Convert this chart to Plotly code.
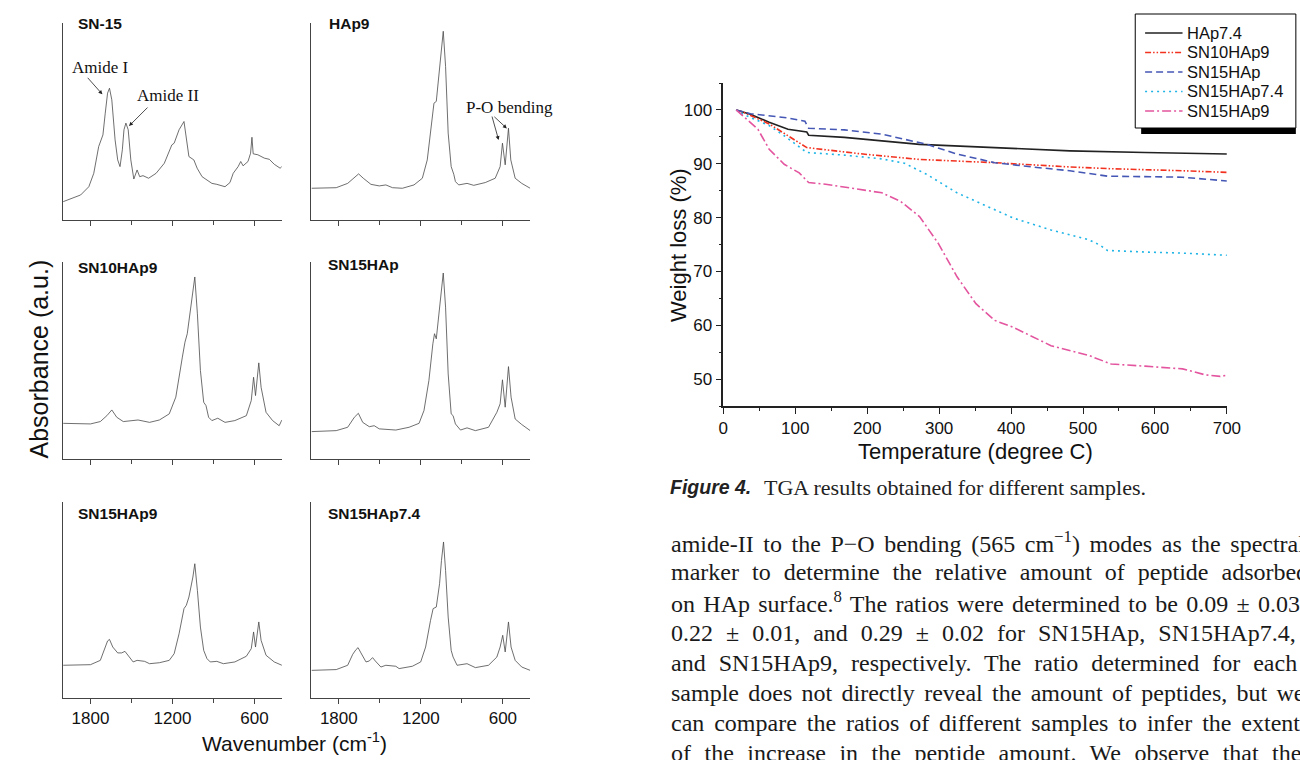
import plotly.graph_objects as go

W, H = 1300, 760

# ---- FTIR spectra (wavenumber cm-1, absorbance a.u. scaled to panel height) ----
sn15_wn = [2000, 1872, 1812, 1776, 1740, 1709, 1692, 1675, 1661, 1644, 1620, 1601, 1584, 1567, 1555,
           1541, 1524, 1505, 1483, 1459, 1440, 1416, 1375, 1320, 1260, 1205, 1188, 1152, 1116, 1097,
           1080, 1044, 1020, 984, 912, 876, 816, 780, 756, 720, 701, 684, 648, 629, 619, 610, 576,
           528, 492, 456, 413, 401]
sn15_ab = [0.093, 0.127, 0.169, 0.237, 0.373, 0.432, 0.542, 0.644, 0.669, 0.610, 0.407, 0.305, 0.271,
           0.356, 0.458, 0.492, 0.458, 0.305, 0.208, 0.254, 0.220, 0.225, 0.212, 0.237, 0.288, 0.381,
           0.390, 0.458, 0.500, 0.407, 0.322, 0.305, 0.263, 0.220, 0.186, 0.181, 0.169, 0.190, 0.237,
           0.271, 0.297, 0.275, 0.297, 0.339, 0.420, 0.336, 0.331, 0.314, 0.308, 0.283, 0.263, 0.271]

hap9_wn = [2000, 1819, 1735, 1686, 1655, 1621, 1565, 1504, 1456, 1407, 1335, 1250, 1189, 1153, 1121,
           1104, 1087, 1068, 1049, 1036, 1019, 1000, 978, 959, 947, 923, 862, 813, 729, 656, 620,
           603, 583, 559, 542, 510, 462, 400]
hap9_ab = [0.161, 0.164, 0.186, 0.217, 0.234, 0.212, 0.181, 0.173, 0.178, 0.164, 0.161, 0.178, 0.212,
           0.305, 0.492, 0.593, 0.602, 0.729, 0.881, 0.958, 0.780, 0.441, 0.271, 0.232, 0.195, 0.178,
           0.186, 0.176, 0.190, 0.212, 0.271, 0.390, 0.280, 0.466, 0.305, 0.212, 0.186, 0.161]

sn10hap9_wn = [2000, 1800, 1728, 1680, 1644, 1608, 1560, 1452, 1368, 1296, 1224, 1176, 1128, 1109,
               1092, 1068, 1051, 1037, 1018, 996, 972, 955, 936, 912, 869, 816, 744, 660, 624, 607,
               593, 569, 552, 516, 468, 420, 400]
sn10hap9_ab = [0.181, 0.178, 0.190, 0.220, 0.249, 0.212, 0.190, 0.198, 0.186, 0.198, 0.229, 0.314,
               0.517, 0.593, 0.636, 0.754, 0.856, 0.924, 0.737, 0.449, 0.288, 0.271, 0.212, 0.195,
               0.207, 0.186, 0.195, 0.220, 0.297, 0.415, 0.322, 0.488, 0.364, 0.237, 0.195, 0.169, 0.198]

sn15hap_wn = [2000, 1819, 1735, 1686, 1657, 1625, 1577, 1541, 1504, 1383, 1286, 1213, 1177, 1141,
              1112, 1100, 1087, 1068, 1051, 1036, 1019, 1000, 978, 964, 947, 910, 862, 801, 705, 644,
              620, 603, 583, 559, 540, 510, 462, 400]
sn15hap_ab = [0.139, 0.144, 0.161, 0.212, 0.232, 0.186, 0.164, 0.169, 0.153, 0.147, 0.161, 0.181,
              0.246, 0.398, 0.585, 0.636, 0.610, 0.737, 0.873, 0.944, 0.771, 0.432, 0.229, 0.220,
              0.178, 0.147, 0.158, 0.144, 0.161, 0.237, 0.280, 0.402, 0.263, 0.469, 0.314, 0.203,
              0.175, 0.144]

sn15hap9_wn = [2000, 1800, 1728, 1697, 1675, 1661, 1637, 1601, 1572, 1548, 1524, 1488, 1459, 1404,
               1368, 1296, 1224, 1188, 1152, 1116, 1099, 1080, 1051, 1037, 1018, 996, 972, 948, 924,
               876, 828, 744, 660, 624, 607, 593, 569, 552, 516, 456, 400]
sn15hap9_ab = [0.167, 0.170, 0.192, 0.252, 0.291, 0.299, 0.260, 0.230, 0.230, 0.238, 0.218, 0.184,
               0.192, 0.187, 0.175, 0.180, 0.192, 0.226, 0.328, 0.456, 0.473, 0.515, 0.617, 0.685,
               0.549, 0.362, 0.243, 0.201, 0.184, 0.187, 0.175, 0.184, 0.213, 0.252, 0.337, 0.260,
               0.388, 0.294, 0.218, 0.184, 0.167]

sn15hap74_wn = [2000, 1819, 1735, 1698, 1674, 1659, 1638, 1601, 1577, 1553, 1533, 1492, 1456, 1383,
                1359, 1262, 1201, 1165, 1129, 1110, 1087, 1063, 1049, 1034, 1019, 1000, 978, 964, 935,
                862, 801, 705, 644, 620, 601, 583, 559, 540, 510, 462, 400]
sn15hap74_ab = [0.141, 0.145, 0.167, 0.223, 0.247, 0.257, 0.230, 0.184, 0.189, 0.206, 0.189, 0.158,
                0.167, 0.162, 0.150, 0.162, 0.184, 0.260, 0.396, 0.456, 0.464, 0.583, 0.702, 0.796,
                0.651, 0.413, 0.243, 0.209, 0.167, 0.175, 0.155, 0.167, 0.209, 0.260, 0.320, 0.235,
                0.388, 0.260, 0.192, 0.158, 0.141]

wn_ticks = [1800, 1200, 600]
wn_minor = [1500, 900]

# ---- TGA curves (temperature degree C, weight %) ----
hap74_t = [17.8, 37.6, 63.7, 89.9, 116.0, 118.6, 168.2, 272.7, 377.2, 481.7, 586.1, 700]
hap74_w = [100, 99.2, 97.7, 96.4, 95.9, 95.3, 94.9, 93.6, 93.0, 92.4, 92.1, 91.8]

sn10_t = [17.8, 27.2, 63.7, 84.6, 116.0, 142.1, 194.3, 272.7, 377.2, 481.7, 533.9, 638.4, 700]
sn10_w = [100, 99.6, 97.4, 95.6, 93.0, 92.6, 91.8, 90.8, 90.2, 89.4, 89.1, 88.7, 88.4]

sn15_t = [17.8, 37.6, 89.9, 113.4, 118.6, 168.2, 220.5, 251.8, 283.1, 324.9, 377.2, 429.4, 481.7,
          533.9, 638.4, 700]
sn15_w = [100, 99.3, 98.5, 97.9, 96.6, 96.3, 95.5, 94.6, 93.6, 91.8, 90.2, 89.4, 88.7, 87.7, 87.5, 86.8]

sn1574_t = [17.8, 27.2, 63.7, 84.6, 116.0, 168.2, 220.5, 251.8, 283.1, 324.9, 361.5, 403.3, 455.5,
            507.8, 523.4, 533.9, 586.1, 638.4, 700]
sn1574_w = [100, 99.2, 97.1, 95.2, 92.1, 91.6, 90.9, 90.1, 88.0, 84.6, 82.4, 79.9, 77.7, 75.9, 74.9,
            73.9, 73.6, 73.4, 73.0]

sn159_t = [17.8, 32.4, 48.1, 63.7, 84.6, 105.5, 118.6, 142.1, 194.3, 220.5, 246.6, 272.7, 298.8,
           324.9, 351.1, 377.2, 403.3, 455.5, 507.8, 539.1, 586.1, 638.4, 669.7, 690.6, 700]
sn159_w = [100, 98.3, 96.4, 92.7, 89.9, 88.3, 86.5, 86.2, 85.2, 84.6, 83.0, 80.2, 75.2, 69.0, 64.0,
           60.9, 59.6, 56.2, 54.4, 52.8, 52.4, 51.9, 50.8, 50.5, 50.7]

ARIAL = "Arial, Liberation Sans, sans-serif"
TIMES = "Times New Roman, Liberation Serif, serif"


def px(x):
    return x / W


def py(y):
    return 1 - y / H


fig = go.Figure()

# panel: title, wn, ab, x-pixels, y-pixels (top, bottom), title position, tick labels
panels = [
    ("SN-15", sn15_wn, sn15_ab, (59, 281), (23, 220), (72, 24), False),
    ("HAp9", hap9_wn, hap9_ab, (311, 533), (23, 220), (327, 23), False),
    ("SN10HAp9", sn10hap9_wn, sn10hap9_ab, (59, 281), (262, 459), (72, 267), False),
    ("SN15HAp", sn15hap_wn, sn15hap_ab, (311, 533), (262, 459), (326, 265), False),
    ("SN15HAp9", sn15hap9_wn, sn15hap9_ab, (59, 281), (502, 698), (72, 513), True),
    ("SN15HAp7.4", sn15hap74_wn, sn15hap74_ab, (311, 533), (502, 698), (326, 513), True),
]

layout_axes = {}
annotations = []
for i, (title, wn, ab, xp, yp, tpos, labels) in enumerate(panels, start=1):
    sfx = "" if i == 1 else str(i)
    fig.add_trace(go.Scatter(x=wn, y=ab, mode="lines", xaxis="x" + sfx, yaxis="y" + sfx,
                             line=dict(color="#4a4a4a", width=0.8), showlegend=False,
                             hoverinfo="skip"))
    layout_axes["xaxis" + sfx] = dict(
        domain=[px(xp[0]), px(xp[1])], range=[2000, 400], anchor="y" + sfx,
        showline=True, linecolor="#444", linewidth=1, showgrid=False, zeroline=False,
        ticks="outside", ticklen=5, tickwidth=1, tickcolor="#444",
        tickmode="array", tickvals=wn_ticks, showticklabels=labels,
        tickfont=dict(family=ARIAL, size=17, color="#111"),
        minor=dict(tickmode="array", tickvals=wn_minor, ticks="outside", ticklen=4,
                   tickwidth=1, tickcolor="#444"),
    )
    layout_axes["yaxis" + sfx] = dict(
        domain=[py(yp[1]), py(yp[0])], range=[0, 1], anchor="x" + sfx,
        showline=True, linecolor="#444", linewidth=1, showgrid=False, zeroline=False,
        ticks="", showticklabels=False,
    )
    annotations.append(dict(text="<b>%s</b>" % title, xref="paper", yref="paper",
                            x=px(tpos[0]), y=py(tpos[1]), xanchor="left", yanchor="middle",
                            showarrow=False, font=dict(family=ARIAL, size=15.5, color="#111")))

# peak labels
peak_text = [
    ("Amide I", 97, 67),
    ("Amide II", 165, 96),
    ("P-O bending", 512, 107),
]
for txt, x, y in peak_text:
    annotations.append(dict(text=txt, xref="paper", yref="paper", x=px(x), y=py(y),
                            xanchor="center", yanchor="middle", showarrow=False,
                            font=dict(family=TIMES, size=17, color="#111")))

# arrows: axis suffix, head (wn, ab), tail offset (px)
peak_arrows = [
    ("", 1713, 0.638, -16, -18),
    ("", 1518, 0.477, 20, -20),
    ("2", 631, 0.406, -7, -25),
    ("2", 571, 0.465, -14, -13),
]
for sfx, x, y, ax, ay in peak_arrows:
    annotations.append(dict(text="", xref="x" + sfx, yref="y" + sfx, x=x, y=y, ax=ax, ay=ay,
                            showarrow=True, arrowhead=2, arrowsize=1, arrowwidth=0.8,
                            arrowcolor="#222", standoff=0))

annotations += [
    dict(text="Absorbance (a.u.)", xref="paper", yref="paper", x=px(35), y=py(359),
         textangle=-90, showarrow=False, xanchor="center", yanchor="middle",
         font=dict(family=ARIAL, size=25, color="#111")),
    dict(text="Wavenumber (cm<sup>-1</sup>)", xref="paper", yref="paper", x=px(294), y=py(742),
         showarrow=False, xanchor="center", yanchor="middle",
         font=dict(family=ARIAL, size=21, color="#111")),
]

# ---- TGA chart ----
tga = [
    ("HAp7.4", hap74_t, hap74_w, "#222222", "solid"),
    ("SN10HAp9", sn10_t, sn10_w, "#f2311f", "6px,2px,1.5px,2px,1.5px,2px"),
    ("SN15HAp", sn15_t, sn15_w, "#4557b5", "7px,4px"),
    ("SN15HAp7.4", sn1574_t, sn1574_w, "#1eb4e6", "2px,4px"),
    ("SN15HAp9", sn159_t, sn159_w, "#e3559f", "9px,3px,2px,3px"),
]
for name, t, w, color, dash in tga:
    fig.add_trace(go.Scatter(x=t, y=w, mode="lines", name=name, xaxis="x7", yaxis="y7",
                             showlegend=False, line=dict(color=color, width=1.6, dash=dash)))

tga_font = dict(family=ARIAL, size=17, color="#111")
layout_axes["xaxis7"] = dict(
    domain=[px(729), px(1240)], range=[0, 700], anchor="y7",
    showline=True, linecolor="#222", linewidth=1.6, showgrid=False, zeroline=False,
    ticks="outside", ticklen=6, tickwidth=1.3, tickcolor="#222", tick0=0, dtick=100,
    tickfont=tga_font,
    minor=dict(dtick=50, ticks="outside", ticklen=3, tickwidth=1.3, tickcolor="#222"),
)
layout_axes["yaxis7"] = dict(
    domain=[py(406), py(83)], range=[45, 105], anchor="x7",
    showline=True, linecolor="#222", linewidth=1.6, showgrid=False, zeroline=False,
    ticks="outside", ticklen=6, tickwidth=1.3, tickcolor="#222", tick0=0, dtick=10,
    tickfont=tga_font,
    minor=dict(dtick=5, ticks="outside", ticklen=3, tickwidth=1.3, tickcolor="#222"),
)

annotations += [
    dict(text="Weight loss (%)", xref="paper", yref="paper", x=px(683), y=py(245),
         textangle=-90, showarrow=False, xanchor="center", yanchor="middle",
         font=dict(family=ARIAL, size=22, color="#111")),
    dict(text="Temperature (degree C)", xref="paper", yref="paper", x=px(985), y=py(451),
         showarrow=False, xanchor="center", yanchor="middle",
         font=dict(family=ARIAL, size=22, color="#111")),
    dict(text="<b><i>Figure 4.</i></b>", xref="paper", yref="paper", x=px(673), y=py(487),
         showarrow=False, xanchor="left", yanchor="middle",
         font=dict(family=ARIAL, size=19.5, color="#222")),
    dict(text="TGA results obtained for different samples.", xref="paper", yref="paper",
         x=px(768), y=py(487), showarrow=False, xanchor="left", yanchor="middle",
         font=dict(family=TIMES, size=22, color="#222")),
]

# legend drawn by hand: frame with drop shadow, line samples and names
leg_y = [33, 52.5, 72, 91.5, 111]
shapes = [
    dict(type="rect", xref="paper", yref="paper", x0=px(1153), x1=px(1310), y0=py(134), y1=py(128),
         fillcolor="#000", line=dict(width=0)),
    dict(type="rect", xref="paper", yref="paper", x0=px(1147), x1=px(1310), y0=py(128), y1=py(14),
         fillcolor="#fff", line=dict(color="#000", width=1)),
]
for (name, t, w, color, dash), yl in zip(tga, leg_y):
    shapes.append(dict(type="line", xref="paper", yref="paper", x0=px(1157), x1=px(1195),
                       y0=py(yl), y1=py(yl), line=dict(color=color, width=1.6, dash=dash)))
    annotations.append(dict(text=name, xref="paper", yref="paper", x=px(1197), y=py(yl),
                            showarrow=False, xanchor="left", yanchor="middle",
                            font=dict(family=ARIAL, size=16.5, color="#111")))

# body text of the page, justified by widening the word gaps line by line
body_lines = [
    "amide-II to the P\u2212O bending (565 cm<sup>\u22121</sup>) modes as the spectral",
    "marker to determine the relative amount of peptide adsorbed",
    "on HAp surface.<sup>8</sup> The ratios were determined to be 0.09 \u00b1 0.03,",
    "0.22 \u00b1 0.01, and 0.29 \u00b1 0.02 for SN15HAp, SN15HAp7.4,",
    "and SN15HAp9, respectively. The ratio determined for each",
    "sample does not directly reveal the amount of peptides, but we",
    "can compare the ratios of different samples to infer the extent",
    "of the increase in the peptide amount. We observe that the",
]
body_y = [542, 572, 602, 633, 663, 693, 723, 753]
body_gap = [3.6, 7.0, 2.3, 7.0, 7.0, 3.3, 3.9, 7.5]
for line, yc, gap in zip(body_lines, body_y, body_gap):
    annotations.append(dict(text='<span style="word-spacing:%.1fpx">%s</span>' % (gap, line),
                            xref="paper", yref="paper", x=px(674), y=py(yc),
                            showarrow=False, xanchor="left", yanchor="middle",
                            font=dict(family=TIMES, size=24, color="#1a1a1a")))

fig.update_layout(
    width=W, height=H, margin=dict(l=0, r=0, t=0, b=0),
    paper_bgcolor="white", plot_bgcolor="white",
    showlegend=False,
    annotations=annotations, shapes=shapes,
    **layout_axes,
)

fig.write_html("out.html", config={"displayModeBar": False},
               post_script="document.body.style.margin='0px';")
